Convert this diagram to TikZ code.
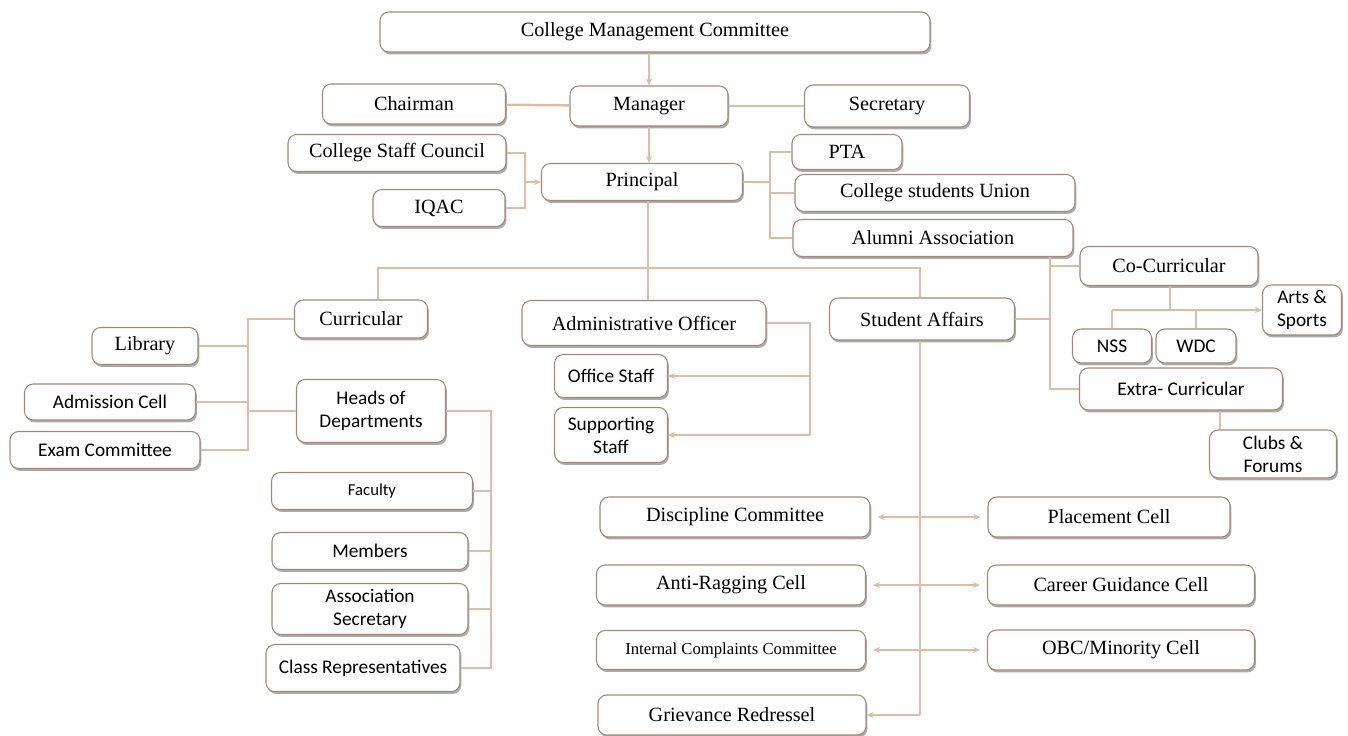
\documentclass[tikz,border=0pt]{standalone}
\usepackage{fontspec}
\setmainfont{Liberation Serif}
\newfontfamily\calibri{Carlito}
\usepackage{tikz}
\usetikzlibrary{arrows.meta,positioning,shadows}
\definecolor{boxedge}{RGB}{165,135,120}
\definecolor{linktan}{RGB}{222,188,165}
\tikzstyle{orgbox}=[rectangle,rounded corners=5pt,draw=boxedge,fill=white,line width=0.6pt,
                   drop shadow={shadow xshift=0.8pt,shadow yshift=-1.4pt,opacity=0.55,fill=black!60},
                   align=center,inner sep=2pt,font=\fontsize{11.5}{13}\selectfont]
\tikzstyle{sansbox}=[orgbox,font=\calibri\fontsize{11}{13}\selectfont]
\tikzstyle{link}=[draw=linktan,line width=1.4pt]
\tikzstyle{linkto}=[link,-{Stealth[length=4pt,width=3.5pt]}]
\tikzset{bw/.style={minimum width=#1*0.02cm},bh/.style={minimum height=#1*0.02cm}}

\begin{document}
\begin{tikzpicture}[x=0.02cm,y=-0.02cm]
  \useasboundingbox (0,0) rectangle (1348,736);

  % management
  \node[orgbox,bw=550,bh=40] (cmc)  at (655,32)  {College Management Committee};
  \node[orgbox,bw=183,bh=40] (chair) at (414,104) {Chairman};
  \node[orgbox,bw=158,bh=40] (mgr)  at (649,106) {Manager};
  \node[orgbox,bw=165,bh=42] (sec)  at (887,106) {Secretary};
  \node[orgbox,bw=218,bh=37] (csc)  at (397,153) {College Staff Council};
  \node[orgbox,bw=132,bh=37] (iqac) at (439,208) {IQAC};
  \node[orgbox,bw=201,bh=37] (prin) at (642,182) {Principal};
  \node[orgbox,bw=110,bh=35] (pta)  at (847,152) {PTA};
  \node[orgbox,bw=280,bh=37] (csu)  at (935,193) {College students Union};
  \node[orgbox,bw=280,bh=37] (alum) at (933,238) {Alumni Association};

  % second level
  \node[orgbox,bw=133,bh=38] (curr)  at (361,319) {Curricular};
  \node[orgbox,bw=244,bh=45] (admin) at (644,323) {Administrative Officer};
  \node[orgbox,bw=185,bh=42] (sa)    at (922,319) {Student Affairs};

  % curricular side
  \node[orgbox,bw=106,bh=37]  (lib)  at (145,346) {Library};
  \node[sansbox,bw=171,bh=36] (adm)  at (110,402) {Admission Cell};
  \node[sansbox,bw=190,bh=37] (exam) at (105,450) {Exam Committee};
  \node[sansbox,bw=149,bh=63] (hod)  at (371,411) {Heads of\\Departments};
  \node[sansbox,bw=201,bh=37,font=\calibri\fontsize{9.5}{12}\selectfont] (fac) at (372,491) {Faculty};
  \node[sansbox,bw=196,bh=37] (mem)   at (370,551) {Members};
  \node[sansbox,bw=196,bh=51] (assoc) at (370,609) {Association\\Secretary};
  \node[sansbox,bw=194,bh=47] (crep)  at (363,668) {Class Representatives};

  % office
  \node[sansbox,bw=113,bh=43] (office) at (611,376) {Office Staff};
  \node[sansbox,bw=113,bh=55] (supp)   at (611,435) {Supporting\\Staff};

  % committees
  \node[orgbox,bw=270,bh=40] (disc)   at (735,517) {Discipline Committee};
  \node[orgbox,bw=269,bh=40] (anti)   at (731,585) {Anti-Ragging Cell};
  \node[orgbox,bw=269,bh=39,font=\fontsize{9.5}{12}\selectfont] (icc) at (731,650) {Internal Complaints Committee};
  \node[orgbox,bw=268,bh=40] (griev)  at (732,715) {Grievance Redressel};
  \node[orgbox,bw=242,bh=40] (place)  at (1109,517) {Placement Cell};
  \node[orgbox,bw=267,bh=40] (career) at (1121,585) {Career Guidance Cell};
  \node[orgbox,bw=267,bh=40] (obc)    at (1121,650) {OBC/Minority Cell};

  % activities
  \node[orgbox,bw=178,bh=39]  (cocur) at (1169,266) {Co-Curricular};
  \node[sansbox,bw=79,bh=50]  (arts)  at (1302,310) {Arts \&\\Sports};
  \node[sansbox,bw=79,bh=34]  (nss)   at (1112,346) {NSS};
  \node[sansbox,bw=80,bh=34]  (wdc)   at (1196,346) {WDC};
  \node[sansbox,bw=203,bh=42] (extra) at (1181,389) {Extra- Curricular};
  \node[sansbox,bw=127,bh=48] (clubs) at (1273,454) {Clubs \&\\Forums};

  % bracket points
  \coordinate (lb)   at (525,182);
  \coordinate (rb)   at (770,182);
  \coordinate (busL) at (378,268);
  \coordinate (busM) at (648,268);
  \coordinate (busR) at (920,268);
  \coordinate (cb)   at (248,319);
  \coordinate (hb)   at (491,411);
  \coordinate (ab)   at (810,323);
  \coordinate (sb)   at (1050,319);
  \coordinate (cc)   at (1170,310);
  \coordinate (ec)   at (1220,410);

  % top
  \draw[linkto] (cmc.south -| mgr.north) -- (mgr.north);
  \draw[link] (chair) -- (mgr);
  \draw[link] (mgr) -- (sec);
  \draw[linkto] (mgr.south) -- (mgr.south |- prin.north);
  \draw[link] (csc.east) -- (csc.east -| lb) -- (iqac.east -| lb) -- (iqac.east);
  \draw[linkto] (lb) -- (prin.west);
  \draw[link] (prin.east) -- (rb);
  \draw[link] (pta.west) -- (pta.west -| rb) -- (alum.west -| rb) -- (alum.west);
  \draw[link] (csu.west -| rb) -- (csu.west);

  % principal to departments
  \draw[link] (prin.south -| busM) -- (busM);
  \draw[link] (busL |- curr.north) -- (busL) -- (busR) -- (busR |- sa.north);
  \draw[link] (busM) -- (busM |- admin.north);

  % curricular
  \draw[link] (curr.west) -- (cb) -- (cb |- exam.east) -- (exam.east);
  \draw[link] (lib.east) -- (lib.east -| cb);
  \draw[link] (adm.east) -- (adm.east -| cb);
  \draw[link] (hod.west) -- (hod.west -| cb);
  \draw[link] (hod.east) -- (hb) -- (hb |- crep.east) -- (crep.east);
  \draw[link] (fac.east) -- (fac.east -| hb);
  \draw[link] (mem.east) -- (mem.east -| hb);
  \draw[link] (assoc.east) -- (assoc.east -| hb);

  % administration
  \draw[link] (admin.east) -- (ab) -- (ab |- supp.east);
  \draw[linkto] (ab |- office.east) -- (office.east);
  \draw[linkto] (ab |- supp.east) -- (supp.east);

  % student affairs
  \draw[link] (sa.south -| busR) -- (busR |- griev.east);
  \draw[linkto,shorten >=4pt] (busR |- disc.east) -- (disc.east);
  \draw[linkto,shorten >=4pt] (busR |- disc.east) -- (place.west);
  \draw[linkto,shorten >=4pt] (busR |- anti.east) -- (anti.east);
  \draw[linkto,shorten >=4pt] (busR |- anti.east) -- (career.west);
  \draw[linkto,shorten >=4pt] (busR |- icc.east) -- (icc.east);
  \draw[linkto,shorten >=4pt] (busR |- icc.east) -- (obc.west);
  \draw[linkto] (busR |- griev.east) -- (griev.east);

  \draw[link] (sa.east) -- (sb);
  \draw[link] (alum.south -| sb) -- (sb |- extra.west) -- (extra.west);
  \draw[link] (cocur.west -| sb) -- (cocur.west);
  \draw[link] (cocur.south -| cc) -- (cc);
  \draw[linkto] (nss.north |- cc) -- (arts.west);
  \draw[link] (nss.north |- cc) -- (nss.north);
  \draw[link] (wdc.north |- cc) -- (wdc.north);
  \draw[link] (extra.south -| ec) -- (ec |- clubs.north);
\end{tikzpicture}
\end{document}
